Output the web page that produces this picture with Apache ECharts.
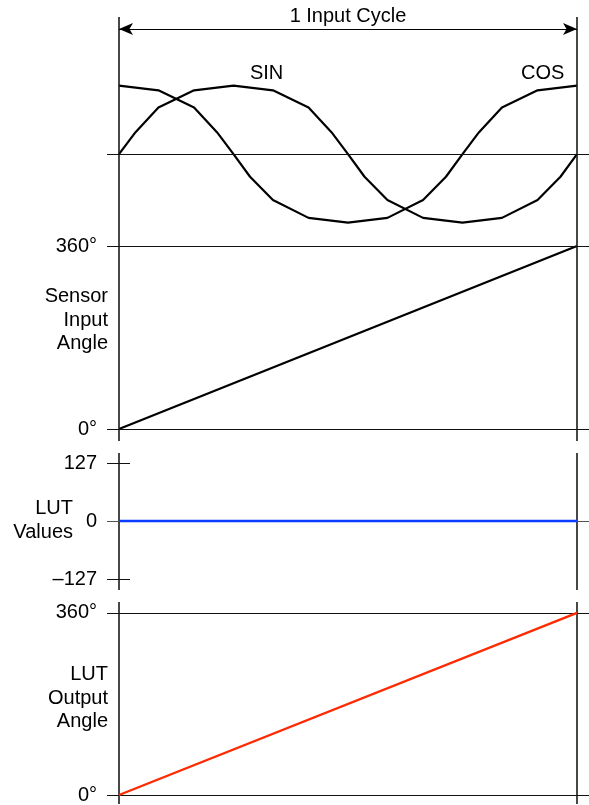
<!DOCTYPE html>
<html>
<head>
<meta charset="utf-8">
<style>
  html, body { margin: 0; padding: 0; background: #fff; }
  #chart { width: 589px; height: 805px; }
</style>
<script src="https://cdn.jsdelivr.net/npm/echarts@6/dist/echarts.min.js"></script>
</head>
<body>
<div id="chart"></div>
<script>
// sampled waveform points (angle in degrees, normalised amplitude)
var sinDeg = [0, 13, 31, 59, 90, 121, 149, 167, 180, 193, 211, 239, 270, 301, 329, 347, 360];
var sinVal = [0, 0.32, 0.68, 0.93, 1, 0.93, 0.68, 0.32, 0, -0.33, -0.67, -0.93, -1, -0.93, -0.67, -0.33, 0];
var cosDeg = [0, 31, 59, 77, 90, 103, 121, 149, 180, 211, 239, 257, 270, 283, 301, 329, 360];
var cosVal = [1, 0.93, 0.68, 0.32, 0, -0.33, -0.67, -0.93, -1, -0.93, -0.67, -0.33, 0, 0.32, 0.68, 0.93, 1];

// ramps over one input cycle
var cycleDeg = [0, 360];
var sensorAngle = [0, 360];
var lutValues = [0, 0];
var outputAngle = [0, 360];

// tick labels
var angleTicks = [0, 360];
var lutTicks = [-127, 0, 127];

var FONT = '"Liberation Sans", Arial, sans-serif';
var FS = 20;

function pairs(xs, ys) {
	var out = [];
	for (var i = 0; i < xs.length; i++) out.push([xs[i], ys[i]]);
	return out;
}

var ruleStyle = { color: '#111', width: 1, type: 'solid' };
var frameStyle = { color: '#1a1a1a', width: 1.6, type: 'solid' };

function frame(extra) {
	var data = [
		{ xAxis: 0, lineStyle: frameStyle },
		{ xAxis: 360, lineStyle: frameStyle }
	];
	return data.concat(extra || []);
}

function markLines(data) {
	return {
		silent: true,
		symbol: ['none', 'none'],
		label: { show: false },
		lineStyle: ruleStyle,
		data: data
	};
}

function xAxisFor(i) {
	return { type: 'value', gridIndex: i, min: -9.43, max: 369.43, show: false };
}

function yAxisFor(i, min, max, ticks, fmt) {
	return {
		type: 'value', gridIndex: i, min: min, max: max,
		axisLine: { show: false },
		axisTick: { show: false },
		splitLine: { show: false },
		axisLabel: {
			customValues: ticks,
			formatter: fmt,
			margin: 10,
			color: '#000',
			fontSize: FS,
			fontFamily: FONT
		}
	};
}

var degFmt = function (v) { return v + '°'; };
var lutFmt = function (v) { return v < 0 ? '–' + Math.abs(v) : String(v); };

var chart = echarts.init(document.getElementById('chart'), null, { renderer: 'canvas' });

chart.setOption({
	animation: false,
	backgroundColor: '#fff',
	textStyle: { fontFamily: FONT },
	grid: [
		{ left: 107, right: 0, top: 17, height: 229 },
		{ left: 107, right: 0, top: 246, height: 195 },
		{ left: 107, right: 0, top: 453, height: 137 },
		{ left: 107, right: 0, top: 602, height: 203 }
	],
	xAxis: [xAxisFor(0), xAxisFor(1), xAxisFor(2), xAxisFor(3)],
	yAxis: [
		{ type: 'value', gridIndex: 0, min: -1.34, max: 2.0, show: false },
		yAxisFor(1, -23.6, 360, angleTicks, degFmt),
		yAxisFor(2, -151, 149, lutTicks, lutFmt),
		yAxisFor(3, -17.7, 381.64, angleTicks, degFmt)
	],
	graphic: [
		{
			type: 'text', x: 108, y: 320,
			style: { text: 'Sensor\nInput\nAngle', align: 'right', verticalAlign: 'middle',
				fontSize: FS, fontFamily: FONT, lineHeight: 23.5, fill: '#000' }
		},
		{
			type: 'text', x: 73, y: 520,
			style: { text: 'LUT\nValues', align: 'right', verticalAlign: 'middle',
				fontSize: FS, fontFamily: FONT, lineHeight: 24, fill: '#000' }
		},
		{
			type: 'text', x: 108, y: 698,
			style: { text: 'LUT\nOutput\nAngle', align: 'right', verticalAlign: 'middle',
				fontSize: FS, fontFamily: FONT, lineHeight: 23.5, fill: '#000' }
		}
	],
	series: [
		{
			name: 'SIN', type: 'line', xAxisIndex: 0, yAxisIndex: 0,
			data: pairs(sinDeg, sinVal), showSymbol: false, silent: true,
			lineStyle: { color: '#000', width: 2.2 },
			markLine: markLines(frame([{ yAxis: 0 }])),
			markPoint: {
				silent: true, symbol: 'circle', symbolSize: 0,
				label: { show: true, position: 'inside', formatter: '{b}', color: '#000', fontSize: FS, fontFamily: FONT },
				data: [{ name: 'SIN', coord: [116, 1.17] }]
			}
		},
		{
			name: 'COS', type: 'line', xAxisIndex: 0, yAxisIndex: 0,
			data: pairs(cosDeg, cosVal), showSymbol: false, silent: true,
			lineStyle: { color: '#000', width: 2.2 },
			markLine: {
				silent: true,
				symbol: ['arrow', 'arrow'],
				symbolSize: [9, 14],
				lineStyle: { color: '#000', width: 1.2, type: 'solid' },
				label: {
					show: true, position: 'middle', formatter: '1 Input Cycle',
					color: '#000', fontSize: FS, fontFamily: FONT, distance: 3
				},
				data: [[{ coord: [0, 1.825] }, { coord: [360, 1.825] }]]
			},
			markPoint: {
				silent: true, symbol: 'circle', symbolSize: 0,
				label: { show: true, position: 'inside', formatter: '{b}', color: '#000', fontSize: FS, fontFamily: FONT },
				data: [{ name: 'COS', coord: [333, 1.18] }]
			}
		},
		{
			name: 'Sensor Input Angle', type: 'line', xAxisIndex: 1, yAxisIndex: 1,
			data: pairs(cycleDeg, sensorAngle), showSymbol: false, silent: true,
			lineStyle: { color: '#000', width: 2.2 },
			markLine: markLines(frame([{ yAxis: 0 }, { yAxis: 360 }]))
		},
		{
			name: 'LUT Values', type: 'line', xAxisIndex: 2, yAxisIndex: 2,
			data: pairs(cycleDeg, lutValues), showSymbol: false, silent: true, z: 5,
			lineStyle: { color: '#0a3cff', width: 2.6 },
			markLine: markLines(frame([
				{ yAxis: 0, lineStyle: { color: '#555', width: 1, type: 'solid' } },
				[{ coord: [-9.43, 127] }, { coord: [8.65, 127] }],
				[{ coord: [-9.43, -127] }, { coord: [8.65, -127] }]
			]))
		},
		{
			name: 'LUT Output Angle', type: 'line', xAxisIndex: 3, yAxisIndex: 3,
			data: pairs(cycleDeg, outputAngle), showSymbol: false, silent: true, z: 5,
			lineStyle: { color: '#ff2a00', width: 2.4 },
			markLine: markLines(frame([{ yAxis: 0 }, { yAxis: 360 }]))
		}
	]
});
</script>
</body>
</html>
